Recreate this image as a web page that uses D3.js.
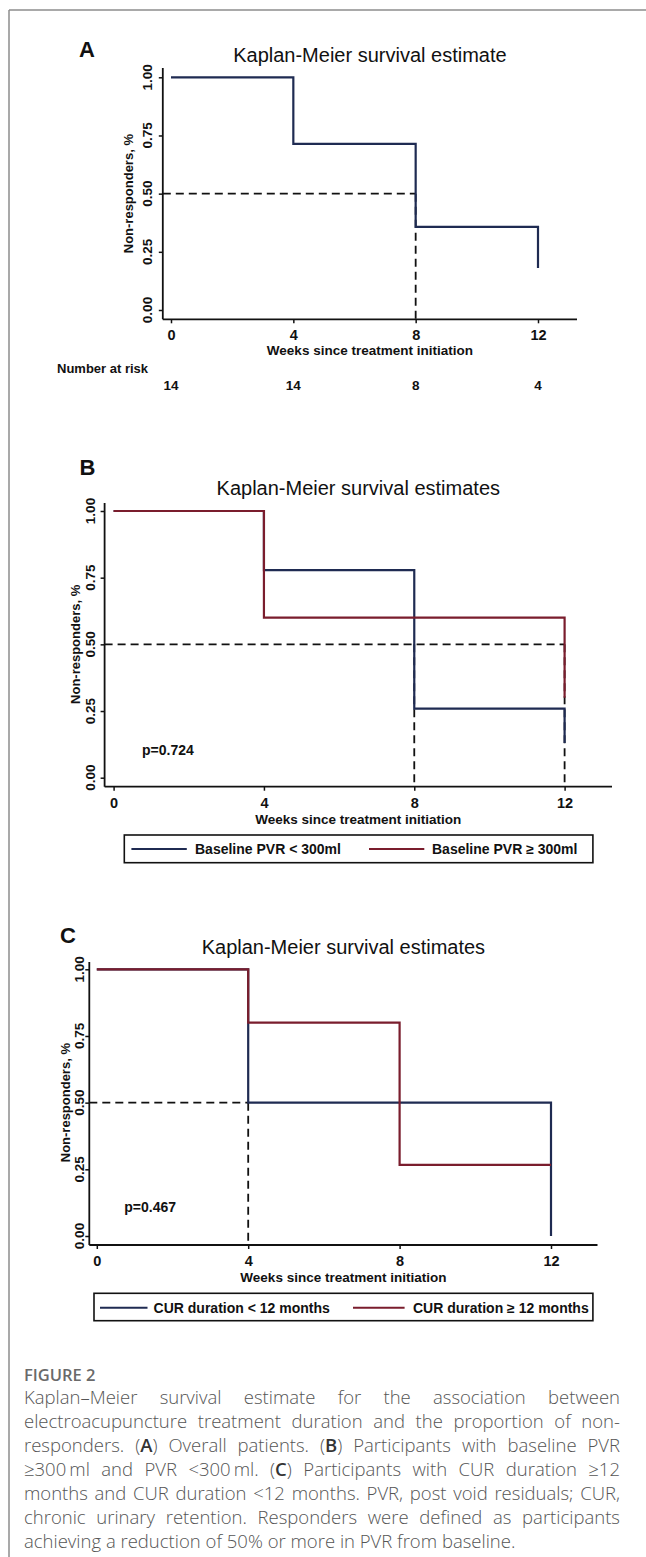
<!DOCTYPE html>
<html>
<head>
<meta charset="utf-8">
<script src="https://cdn.jsdelivr.net/npm/d3@7"></script>
<style>
  body { margin: 0; background: #fff; }
  svg { display: block; }
  .km text { font-family: "Liberation Sans", Arial, sans-serif; fill: #111; }
  .caption text { font-family: "Open Sans", sans-serif; }
</style>
</head>
<body>
<svg id="chart" width="646" height="1557"></svg>
<script>
// ---- data ----
const weeks = [0, 4, 8, 12];
const yTicks = [0, 0.25, 0.5, 0.75, 1];

// panel A: overall
const overallSurvival = [1, 0.714, 0.357, 0.18];
const numberAtRisk = [14, 14, 8, 4];

// panel B: baseline PVR
const pvrLowSurvival = [1, 0.778, 0.259, 0.13];   // < 300ml
const pvrHighSurvival = [1, 0.6, 0.6, 0.3];       // >= 300ml

// panel C: CUR duration
const curShortSurvival = [1, 0.5, 0.5, 0];        // < 12 months
const curLongSurvival = [1, 0.8, 0.267, 0.267];   // >= 12 months

const pValues = ['p=0.724', 'p=0.467'];
const legendLabelsB = ['Baseline PVR < 300ml', 'Baseline PVR \u2265 300ml'];
const legendLabelsC = ['CUR duration < 12 months', 'CUR duration \u2265 12 months'];

const captionLines = [
  'Kaplan\u2013Meier survival estimate for the association between',
  'electroacupuncture treatment duration and the proportion of non-',
  'responders. (A) Overall patients. (B) Participants with baseline PVR',
  '\u2265300\u2009ml and PVR <300\u2009ml. (C) Participants with CUR duration \u226512',
  'months and CUR duration <12 months. PVR, post void residuals; CUR,',
  'chronic urinary retention. Responders were defined as participants',
  'achieving a reduction of 50% or more in PVR from baseline.'
];

const navy = '#1f2b52';
const maroon = '#7a1d2d';

const svg = d3.select('#chart');

// figure frame (top + left rule)
svg.append('line').attr('x1', 9).attr('x2', 646).attr('y1', 10).attr('y2', 10)
  .attr('stroke', '#8c8c8c').attr('stroke-width', 1.5);
svg.append('line').attr('x1', 9).attr('x2', 9).attr('y1', 10).attr('y2', 1557)
  .attr('stroke', '#8c8c8c').attr('stroke-width', 1.5);

const panels = [
  {
    letter: 'A', letterPos: [79, 57],
    title: 'Kaplan-Meier survival estimate', titleY: 62,
    xRange: [171, 538], yRange: [310, 77.3],
    axisX: 162.8, axisY: 319.3, yTop: 68, xEnd: 577,
    yLabelX: 152, yTitleX: 133,
    xTitleY: 355,
    series: [{ values: overallSurvival, color: navy }],
    medianAt: [8],
  },
  {
    letter: 'B', letterPos: [79.6, 475],
    title: 'Kaplan-Meier survival estimates', titleY: 495,
    xRange: [113.6, 564.6], yRange: [777.7, 511],
    axisX: 104.6, axisY: 786.7, yTop: 503, xEnd: 612,
    yLabelX: 95, yTitleX: 80,
    xTitleY: 824,
    series: [{ values: pvrLowSurvival, color: navy }, { values: pvrHighSurvival, color: maroon }],
    medianAt: [8, 12],
    pValue: pValues[0], pPos: [142, 755],
    legend: { labels: legendLabelsB, box: [124.3, 835, 468.6, 27.7],
      samples: [[131.4, 186.8], [369, 424.3]], textX: [195, 432], lineY: 849, textY: 854 },
  },
  {
    letter: 'C', letterPos: [60, 943],
    title: 'Kaplan-Meier survival estimates', titleY: 954,
    xRange: [96.8, 551], yRange: [1236, 969.3],
    axisX: 89.3, axisY: 1245, yTop: 962, xEnd: 597.5,
    yLabelX: 84, yTitleX: 70,
    xTitleY: 1281.7,
    series: [{ values: curShortSurvival, color: navy }, { values: curLongSurvival, color: maroon }],
    medianAt: [4],
    pValue: pValues[1], pPos: [124.3, 1211.7],
    legend: { labels: legendLabelsC, box: [94, 1293.3, 498.9, 27.4],
      samples: [[100, 147.5], [353, 404.6]], textX: [153.6, 413], lineY: 1307.7, textY: 1312.7 },
  },
];

function drawPanel(p) {
  const g = svg.append('g').attr('class', 'km');
  const x = d3.scaleLinear().domain([0, 12]).range(p.xRange);
  const y = d3.scaleLinear().domain([0, 1]).range(p.yRange);
  const midX = (p.axisX + p.xEnd) / 2;

  g.append('text').attr('x', p.letterPos[0]).attr('y', p.letterPos[1])
    .attr('font-size', 22).attr('font-weight', 'bold').text(p.letter);

  g.append('text').attr('x', midX).attr('y', p.titleY)
    .attr('text-anchor', 'middle').attr('font-size', 20).text(p.title);

  // median guide lines
  const dash = g.append('g').attr('stroke', '#111').attr('stroke-width', 1.8)
    .attr('stroke-dasharray', '8,5').attr('fill', 'none');
  dash.append('line').attr('x1', p.axisX).attr('x2', x(d3.max(p.medianAt)))
    .attr('y1', y(0.5)).attr('y2', y(0.5));
  dash.selectAll('.vmed').data(p.medianAt).join('line').attr('class', 'vmed')
    .attr('x1', d => x(d)).attr('x2', d => x(d))
    .attr('y1', y(0.5)).attr('y2', p.axisY);

  // survival steps
  const line = d3.line().x(d => x(d[0])).y(d => y(d[1])).curve(d3.curveStepAfter);
  p.series.forEach(s => {
    g.append('path').datum(d3.zip(weeks, s.values)).attr('d', line)
      .attr('fill', 'none').attr('stroke', s.color).attr('stroke-width', 2.2);
  });

  // x axis
  const xAxis = g.append('g').attr('transform', `translate(0,${p.axisY})`)
    .call(d3.axisBottom(x).tickValues(weeks).tickSize(4));
  xAxis.select('.domain').remove();
  xAxis.selectAll('line').attr('stroke', '#111').attr('stroke-width', 1.5);
  xAxis.selectAll('text').attr('y', 21).attr('dy', null)
    .attr('font-family', '"Liberation Sans", Arial, sans-serif')
    .attr('font-size', 14.5).attr('font-weight', 'bold').attr('fill', '#111');
  g.append('line').attr('x1', p.axisX).attr('x2', p.xEnd)
    .attr('y1', p.axisY).attr('y2', p.axisY).attr('stroke', '#111').attr('stroke-width', 1.8);

  // y axis
  const yAxis = g.append('g').attr('transform', `translate(${p.axisX},0)`)
    .call(d3.axisLeft(y).tickValues(yTicks).tickSize(4).tickFormat(''));
  yAxis.select('.domain').remove();
  yAxis.selectAll('line').attr('stroke', '#111').attr('stroke-width', 1.5);
  g.append('line').attr('x1', p.axisX).attr('x2', p.axisX)
    .attr('y1', p.yTop).attr('y2', p.axisY).attr('stroke', '#111').attr('stroke-width', 1.8);
  g.selectAll('.ylab').data(yTicks).join('text').attr('class', 'ylab')
    .attr('transform', d => `translate(${p.yLabelX},${y(d)}) rotate(-90)`)
    .attr('text-anchor', 'middle').attr('font-size', 13.5).attr('font-weight', 'bold')
    .text(d3.format('.2f'));
  g.append('text')
    .attr('transform', `translate(${p.yTitleX},${(p.yRange[0] + p.yRange[1]) / 2}) rotate(-90)`)
    .attr('text-anchor', 'middle').attr('font-size', 13).attr('font-weight', 'bold')
    .text('Non-responders, %');

  g.append('text').attr('x', midX).attr('y', p.xTitleY).attr('text-anchor', 'middle')
    .attr('font-size', 13.5).attr('font-weight', 'bold').text('Weeks since treatment initiation');

  if (p.pValue) {
    g.append('text').attr('x', p.pPos[0]).attr('y', p.pPos[1])
      .attr('font-size', 14).attr('font-weight', 'bold').text(p.pValue);
  }

  if (p.legend) {
    const L = p.legend;
    g.append('rect').attr('x', L.box[0]).attr('y', L.box[1])
      .attr('width', L.box[2]).attr('height', L.box[3])
      .attr('fill', 'none').attr('stroke', '#111').attr('stroke-width', 1.6);
    p.series.forEach((s, i) => {
      g.append('line').attr('x1', L.samples[i][0]).attr('x2', L.samples[i][1])
        .attr('y1', L.lineY).attr('y2', L.lineY).attr('stroke', s.color).attr('stroke-width', 2);
      g.append('text').attr('x', L.textX[i]).attr('y', L.textY)
        .attr('font-size', 14).attr('font-weight', 'bold').text(L.labels[i]);
    });
  }
  return { x };
}

panels.forEach((p, i) => {
  const { x } = drawPanel(p);
  if (i === 0) {
    const g = svg.append('g').attr('class', 'km');
    g.append('text').attr('x', 57).attr('y', 372.7)
      .attr('font-size', 13).attr('font-weight', 'bold').text('Number at risk');
    g.selectAll('.risk').data(numberAtRisk).join('text').attr('class', 'risk')
      .attr('x', (d, j) => x(weeks[j])).attr('y', 389.5).attr('text-anchor', 'middle')
      .attr('font-size', 13.5).attr('font-weight', 'bold').text(d => d);
  }
});

// ---- caption, justified by hand ----
const cap = svg.append('g').attr('class', 'caption');
cap.append('text').attr('x', 24).attr('y', 1381).attr('font-size', 16.5)
  .attr('font-weight', 600).attr('fill', '#6a6a6a').text('FIGURE 2');

const capLeft = 24, capWidth = 596, capSize = 18.5;
captionLines.forEach((ln, i) => {
  const yy = 1404 + i * 24;
  const words = ln.split(' ');
  const nodes = words.map(w => {
    const t = cap.append('text').attr('y', yy).attr('font-size', capSize)
      .attr('font-weight', 300).attr('fill', '#555');
    const m = w.match(/^\(([ABC])\)(.*)$/);
    if (m) {
      t.append('tspan').text('(');
      t.append('tspan').attr('font-weight', 600).attr('fill', '#333').text(m[1]);
      t.append('tspan').text(')' + m[2]);
    } else {
      t.text(w);
    }
    return t;
  });
  const widths = nodes.map(t => t.node().getComputedTextLength());
  const total = d3.sum(widths);
  const last = i === captionLines.length - 1;
  const gap = last ? capSize * 0.26 : (capWidth - total) / (words.length - 1);
  let cx = capLeft;
  nodes.forEach((t, j) => { t.attr('x', cx); cx += widths[j] + gap; });
});
</script>
</body>
</html>
